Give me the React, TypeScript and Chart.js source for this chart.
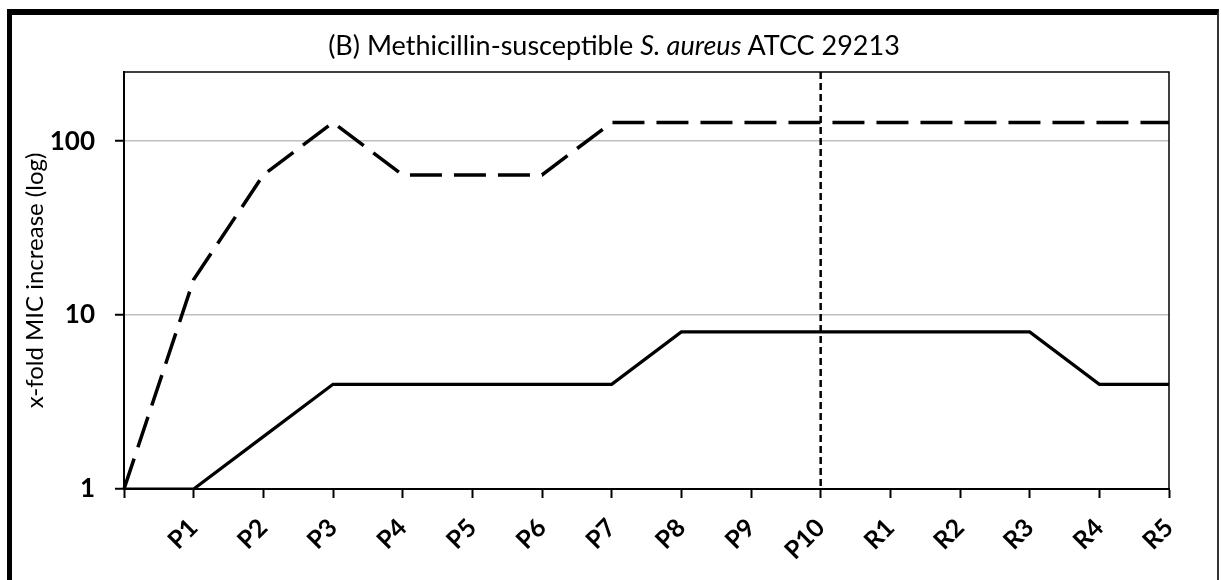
import React, { useEffect, useRef } from "react";
import { Chart, registerables } from "chart.js";

Chart.register(...registerables);

const categories = ["", "P1", "P2", "P3", "P4", "P5", "P6", "P7", "P8", "P9", "P10", "R1", "R2", "R3", "R4", "R5"];
const dashedSeries = [1, 16, 64, 128, 64, 64, 64, 128, 128, 128, 128, 128, 128, 128, 128, 128];
const solidSeries = [1, 1, 2, 4, 4, 4, 4, 4, 8, 8, 8, 8, 8, 8, 4, 4];
const yTickValues = [1, 10, 100];
const dividerCategory = "P10";
const yAxisTitle = "x-fold MIC increase (log)";

const FONT = "Lato, 'Open Sans', sans-serif";

const framePlugin = {
  id: "frame",
  afterDatasetsDraw(chart: any) {
    const { ctx, chartArea, scales } = chart;
    const x = scales.x.getPixelForValue(categories.indexOf(dividerCategory));
    ctx.save();
    ctx.strokeStyle = "#000";
    ctx.lineWidth = 2.5;
    ctx.setLineDash([7, 4]);
    ctx.beginPath();
    ctx.moveTo(x, chartArea.top);
    ctx.lineTo(x, chartArea.bottom);
    ctx.stroke();
    ctx.setLineDash([]);
    ctx.lineWidth = 1.5;
    ctx.beginPath();
    ctx.moveTo(chartArea.left, chartArea.top);
    ctx.lineTo(chartArea.right, chartArea.top);
    ctx.lineTo(chartArea.right, chartArea.bottom);
    ctx.stroke();
    ctx.restore();
  },
};

export default function App() {
  const ref = useRef<HTMLCanvasElement>(null);

  useEffect(() => {
    if (!ref.current) return;
    const chart = new Chart(ref.current, {
      type: "line",
      data: {
        labels: categories,
        datasets: [
          {
            label: "dashed",
            data: dashedSeries,
            borderColor: "#000",
            borderWidth: 3.5,
            borderDash: [32, 12],
            pointRadius: 0,
            tension: 0,
            fill: false,
          },
          {
            label: "solid",
            data: solidSeries,
            borderColor: "#000",
            borderWidth: 3.2,
            pointRadius: 0,
            tension: 0,
            fill: false,
          },
        ],
      },
      options: {
        animation: false,
        responsive: false,
        maintainAspectRatio: false,
        layout: { padding: { left: 0, top: 72, right: 52, bottom: 0 } },
        plugins: {
          legend: { display: false },
          title: { display: false },
          tooltip: { enabled: false },
        },
        scales: {
          x: {
            type: "category",
            offset: false,
            afterFit: (s: any) => {
              s.height = 91;
            },
            grid: {
              drawOnChartArea: false,
              drawTicks: true,
              tickLength: 9,
              tickColor: "#000",
              tickWidth: 2,
            },
            border: { display: true, color: "#000", width: 2 },
            ticks: {
              autoSkip: false,
              minRotation: 45,
              maxRotation: 45,
              padding: 15,
              color: "#000",
              font: { family: FONT, size: 25, weight: "bold" },
            },
          },
          y: {
            type: "logarithmic",
            min: 1,
            max: 250,
            afterFit: (s: any) => {
              s.width = 124;
            },
            afterBuildTicks: (s: any) => {
              s.ticks = yTickValues.map((v) => ({ value: v }));
            },
            grid: {
              color: (c: any) => (c.tick && c.tick.value === 1 ? "rgba(0,0,0,0)" : "#bfbfbf"),
              lineWidth: 1.5,
              tickLength: 9,
              tickColor: "#000",
              tickWidth: 2,
            },
            border: { display: true, color: "#000", width: 2 },
            ticks: {
              padding: 20,
              color: "#000",
              font: { family: FONT, size: 26, weight: "bold" },
              callback: (v: any) => String(v),
            },
            title: {
              display: true,
              text: yAxisTitle,
              color: "#000",
              font: { family: FONT, size: 24, weight: "normal" },
              padding: { top: 21, bottom: 0 },
            },
          },
        },
      },
      plugins: [framePlugin],
    });
    return () => chart.destroy();
  }, []);

  return (
    <div style={{ position: "absolute", left: 0, top: 0, width: 1221, height: 580, overflow: "hidden", background: "#fff" }}>
      <div
        style={{
          position: "absolute",
          left: 7,
          top: 9,
          width: 1205,
          height: 620,
          borderTop: "6px solid #000",
          borderLeft: "5px solid #000",
          borderRight: "2px solid #333",
        }}
      />
      <canvas ref={ref} width={1221} height={580} style={{ position: "absolute", left: 0, top: 0 }} />
      <div
        style={{
          position: "absolute",
          left: 614,
          top: 29,
          transform: "translateX(-50%)",
          whiteSpace: "nowrap",
          fontFamily: FONT,
          fontSize: 27,
          lineHeight: "32px",
          color: "#000",
        }}
      >
        (B) Methicillin-susceptible <i>S. aureus</i> ATCC 29213
      </div>
    </div>
  );
}
